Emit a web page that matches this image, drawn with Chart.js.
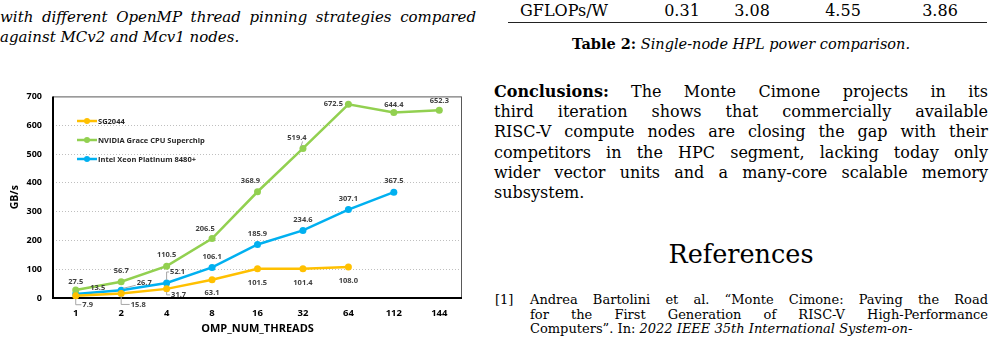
<!DOCTYPE html>
<html>
<head>
<meta charset="utf-8">
<script src="https://cdn.jsdelivr.net/npm/chart.js@4"></script>
<style>
  html, body { margin: 0; padding: 0; background: #fff; }
  body { width: 994px; height: 353px; position: relative; overflow: hidden; font-family: "DejaVu Serif", "Liberation Serif", serif; color: #000; }
  .abs { position: absolute; }
  .jl { text-align: justify; text-align-last: justify; white-space: nowrap; }
  .cap { left: 0; width: 476px; font-style: italic; font-size: 15px; line-height: 20px; }
  .para { left: 494px; width: 494px; font-size: 16px; line-height: 20.2px; }
  .ref { left: 530px; width: 458px; font-size: 13px; line-height: 14.5px; }
  #wrap { left: 0; top: 80px; width: 480px; height: 265px; }
</style>
</head>
<body>
<div class="abs cap" style="top:7px">
  <div class="jl">with different OpenMP thread pinning strategies compared</div>
  <div>against MCv2 and Mcv1 nodes.</div>
</div>

<div class="abs" style="left:520px;top:1px;font-size:16px;line-height:20px">GFLOPs/W</div>
<div class="abs" style="left:662px;top:1px;width:40px;text-align:center;font-size:16px;line-height:20px">0.31</div>
<div class="abs" style="left:732px;top:1px;width:40px;text-align:center;font-size:16px;line-height:20px">3.08</div>
<div class="abs" style="left:823px;top:1px;width:40px;text-align:center;font-size:16px;line-height:20px">4.55</div>
<div class="abs" style="left:920px;top:1px;width:40px;text-align:center;font-size:16px;line-height:20px">3.86</div>
<div class="abs" style="left:508px;top:22px;width:479px;height:1px;border-top:1.3px solid #222"></div>
<div class="abs" style="left:494px;top:34px;width:494px;text-align:center;font-size:14.5px;line-height:20px"><b>Table 2:</b> <i>Single-node HPL power comparison.</i></div>

<div class="abs para" style="top:82px">
  <div class="jl"><b>Conclusions:</b> The Monte Cimone projects in its</div>
  <div class="jl">third iteration shows that commercially available</div>
  <div class="jl">RISC-V compute nodes are closing the gap with their</div>
  <div class="jl">competitors in the HPC segment, lacking today only</div>
  <div class="jl">wider vector units and a many-core scalable memory</div>
  <div>subsystem.</div>
</div>

<div class="abs" style="left:494px;top:238px;width:494px;text-align:center;font-size:25.5px;line-height:32px">References</div>
<div class="abs" style="left:495px;top:293px;font-size:13px;line-height:14.5px">[1]</div>
<div class="abs ref" style="top:293px">
  <div class="jl">Andrea Bartolini et al. “Monte Cimone: Paving the Road</div>
  <div class="jl">for the First Generation of RISC-V High-Performance</div>
  <div>Computers”. In: <i>2022 IEEE 35th International System-on-</i></div>
</div>

<div id="wrap" class="abs"><canvas id="chart"></canvas></div>

<script>
const threads = ["1", "2", "4", "8", "16", "32", "64", "112", "144"];
const sg2044 = [7.9, 15.8, 31.7, 63.1, 101.5, 101.4, 108.0, null, null];
const grace = [27.5, 56.7, 110.5, 206.5, 368.9, 519.4, 672.5, 644.4, 652.3];
const xeon = [13.5, 26.7, 52.1, 106.1, 185.9, 234.6, 307.1, 367.5, null];
const yTicks = [0, 100, 200, 300, 400, 500, 600, 700];

const FAM = '"Open Sans", "Noto Sans", "Liberation Sans", sans-serif';

// label spots relative to the point: dx, dy, leader line kind
const spots = [
  [[12, 9, "L"], [17, 11, "L"], [12, 6, "L"], [0, 13], [0, 14], [0, 14], [0, 14]],
  [[0, -8], [0, -11], [0, -11], [-7, -10], [-7, -11], [-6, -11, "D"], [-15, 0], [0, -8], [0, -9]],
  [[22, -6], [23, -7, "D"], [11, -11, "L"], [0, -11], [0, -11], [0, -11], [0, -11], [0, -11]],
];

const decor = {
  id: "decor",
  beforeDatasetsDraw(chart) {
    const { ctx, chartArea: a } = chart;
    ctx.save();
    ctx.strokeStyle = "#595959";
    ctx.lineWidth = 1;
    ctx.strokeRect(a.left + 0.5, a.top + 0.5, a.right - a.left - 1, a.bottom - a.top);
    ctx.strokeStyle = "#000";
    ctx.lineWidth = 2;
    ctx.beginPath();
    ctx.moveTo(a.left, a.top);
    ctx.lineTo(a.left, a.bottom);
    ctx.lineTo(a.right, a.bottom);
    ctx.stroke();
    ctx.restore();
  },
  afterDatasetsDraw(chart) {
    const ctx = chart.ctx;
    ctx.save();
    ctx.font = "bold 7.5px " + FAM;
    ctx.textAlign = "center";
    ctx.textBaseline = "middle";
    chart.data.datasets.forEach((ds, i) => {
      const meta = chart.getDatasetMeta(i);
      meta.data.forEach((pt, j) => {
        const v = ds.data[j];
        if (v == null) return;
        const s = spots[i][j];
        const txt = v.toFixed(1);
        const lx = pt.x + s[0], ly = pt.y + s[1];
        if (s[2]) {
          const w = ctx.measureText(txt).width;
          ctx.strokeStyle = "#a6a6a6";
          ctx.lineWidth = 1;
          ctx.beginPath();
          if (s[2] === "L") {
            ctx.moveTo(pt.x, pt.y + (s[1] > 0 ? 3 : -3));
            ctx.lineTo(pt.x, ly);
            ctx.lineTo(lx - w / 2 - 1, ly);
          } else if (s[0] > 0) {
            ctx.moveTo(pt.x + 2, pt.y - 2);
            ctx.lineTo(lx - w / 2 - 1, ly + 2);
          } else {
            ctx.moveTo(pt.x - 2, pt.y - 2);
            ctx.lineTo(lx + w / 2 - 4, ly + 4);
          }
          ctx.stroke();
        }
        ctx.fillStyle = "#404040";
        ctx.fillText(txt, lx, ly);
      });
    });
    // legend inside the plot
    ctx.font = "bold 7.5px " + FAM;
    ctx.textAlign = "left";
    chart.data.datasets.forEach((ds, i) => {
      const y = 41 + i * 19;
      ctx.strokeStyle = ds.borderColor;
      ctx.lineWidth = 2.5;
      ctx.beginPath();
      ctx.moveTo(77, y);
      ctx.lineTo(97, y);
      ctx.stroke();
      ctx.fillStyle = ds.borderColor;
      ctx.beginPath();
      ctx.arc(87, y, 3, 0, Math.PI * 2);
      ctx.fill();
      ctx.fillStyle = "#262626";
      ctx.fillText(ds.label, 98, y + 0.5);
    });
    ctx.restore();
  },
};

function series(label, data, color) {
  return {
    label, data,
    borderColor: color,
    backgroundColor: color,
    borderWidth: 2.5,
    pointRadius: 3.5,
    pointBorderWidth: 0,
    pointBackgroundColor: color,
    tension: 0,
    clip: false,
  };
}

const ctx = document.getElementById("chart").getContext("2d");
const myChart = new Chart(ctx, {
  type: "line",
  data: {
    labels: threads,
    datasets: [
      series("SG2044", sg2044, "#FFC000"),
      series("NVIDIA Grace CPU Superchip", grace, "#92D050"),
      series("Intel Xeon Platinum 8480+", xeon, "#00B0F0"),
    ],
  },
  options: {
    responsive: true,
    maintainAspectRatio: false,
    animation: false,
    layout: { padding: { left: 0, top: 14, right: 18, bottom: 0 } },
    scales: {
      x: {
        offset: true,
        grid: { display: false },
        border: { display: false },
        ticks: { color: "#000", font: { family: FAM, weight: "bold", size: 9.5 }, padding: 2 },
        title: {
          display: true,
          text: "OMP_NUM_THREADS",
          color: "#000",
          font: { family: FAM, weight: "bold", size: 11 },
          padding: { top: 0, bottom: 10 },
        },
        afterFit(scale) { scale.height = 47; },
      },
      y: {
        min: 0,
        max: 700,
        afterBuildTicks(scale) { scale.ticks = yTicks.map((v) => ({ value: v })); },
        grid: {
          color: (c) => (c.tick.value === 0 || c.tick.value === 700 ? "rgba(0,0,0,0)" : "#bfbfbf"),
          drawTicks: false,
        },
        border: { display: false, dash: [1, 2] },
        ticks: { color: "#000", font: { family: FAM, weight: "bold", size: 9 }, padding: 11 },
        title: {
          display: true,
          text: "GB/s",
          color: "#000",
          font: { family: FAM, weight: "bold", size: 10.5 },
          padding: { top: 9, bottom: 0 },
        },
        afterFit(scale) { scale.width = 53; },
      },
    },
    plugins: {
      legend: { display: false },
      tooltip: { enabled: false },
    },
  },
  plugins: [decor],
});
</script>
</body>
</html>
